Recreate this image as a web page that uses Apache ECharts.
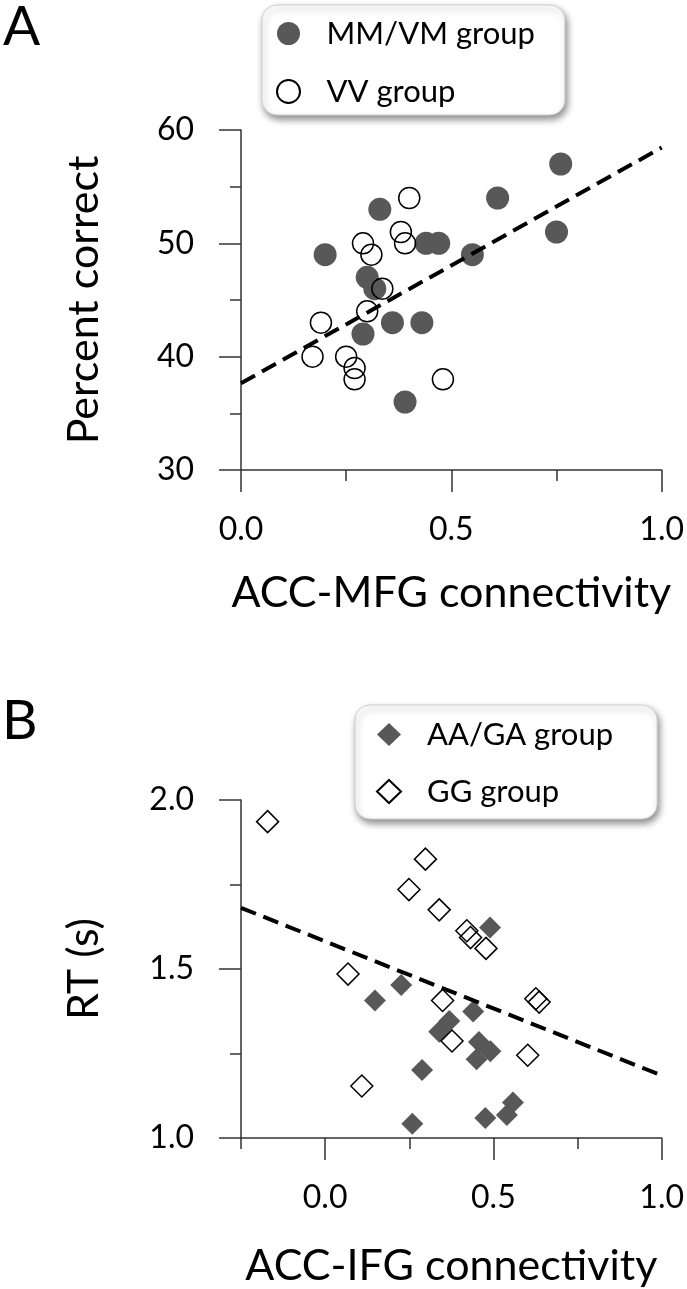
<!DOCTYPE html>
<html>
<head>
<meta charset="utf-8">
<script src="https://cdn.jsdelivr.net/npm/echarts@6/dist/echarts.min.js"></script>
<style>
html,body{margin:0;padding:0;background:#fff;}
#chart{width:687px;height:1289px;}
</style>
</head>
<body>
<div id="chart"></div>
<script>
// Panel A data
const mmvmX = [0.76, 0.61, 0.75, 0.33, 0.20, 0.44, 0.47, 0.55, 0.30, 0.318, 0.36, 0.43, 0.29, 0.39];
const mmvmY = [57, 54, 51, 53, 49, 50, 50, 49, 47, 46, 43, 43, 42, 36];
const vvX = [0.40, 0.38, 0.39, 0.29, 0.31, 0.336, 0.30, 0.19, 0.17, 0.25, 0.27, 0.27, 0.48];
const vvY = [54, 51, 50, 50, 49, 46, 44, 43, 40, 40, 39, 38, 38];
const fitAX = [0, 1.0];
const fitAY = [37.65, 58.45];
// Panel B data
const aagaX = [0.49, 0.226, 0.148, 0.44, 0.369, 0.339, 0.457, 0.491, 0.45, 0.288, 0.558, 0.54, 0.476, 0.259];
const aagaY = [1.623, 1.453, 1.407, 1.374, 1.346, 1.314, 1.284, 1.257, 1.233, 1.201, 1.105, 1.068, 1.059, 1.042];
const ggX = [-0.171, 0.298, 0.249, 0.339, 0.421, 0.432, 0.478, 0.068, 0.349, 0.626, 0.636, 0.377, 0.602, 0.109];
const ggY = [1.936, 1.825, 1.735, 1.675, 1.613, 1.593, 1.561, 1.485, 1.407, 1.412, 1.402, 1.287, 1.245, 1.154];
const fitBX = [-0.25, 1.0];
const fitBY = [1.681, 1.185];
// Axis tick labels
const xTicksA = [0, 0.5, 1.0];
const xTicksB = [0, 0.5, 1.0];

const FONT = 'Lato';
const AX = '#333';
const FILL = '#585858';
const zip = (a, b) => a.map((v, i) => [v, b[i]]);

const chart = echarts.init(document.getElementById('chart'), null, {renderer: 'canvas'});

const axisLineStyle = {show: true, onZero: false, lineStyle: {color: AX, width: 1.5}};
const tickStyle = {color: AX, width: 1.5};
const labelStyle = {fontFamily: FONT, fontSize: 32, color: '#000'};
const nameStyle = {fontFamily: FONT, fontSize: 43, color: '#000'};

const legendCommon = {
  orient: 'vertical',
  itemWidth: 24,
  itemHeight: 23,
  selectedMode: false,
  backgroundColor: '#fff',
  borderColor: '#cfcfcf',
  borderWidth: 1,
  borderRadius: 15,
  shadowBlur: 7,
  shadowColor: 'rgba(0,0,0,0.45)',
  shadowOffsetX: 2,
  shadowOffsetY: 4,
  textStyle: {fontFamily: FONT, fontSize: 31, color: '#000', lineHeight: 30, padding: [0, 0, 0, 21]}
};

const option = {
  animation: false,
  backgroundColor: '#fff',
  title: [
    {text: 'A', left: 3, top: 0, padding: 0, textStyle: {fontFamily: FONT, fontSize: 55, fontWeight: 'normal', color: '#000'}},
    {text: 'B', left: 2, top: 694, padding: 0, textStyle: {fontFamily: FONT, fontSize: 55, fontWeight: 'normal', color: '#000'}}
  ],
  legend: [
    Object.assign({}, legendCommon, {
      left: 262, top: 5, itemGap: 27, padding: [13, 30, 8, 14],
      data: [{name: 'MM/VM group', icon: 'circle'}, {name: 'VV group', icon: 'circle'}]
    }),
    Object.assign({}, legendCommon, {
      left: 355, top: 705, itemGap: 26, padding: [14, 44, 12, 21],
      data: [{name: 'AA/GA group', icon: 'diamond'}, {name: 'GG group', icon: 'diamond'}]
    })
  ],
  grid: [
    {left: 241, top: 130, width: 425, height: 340},
    {left: 241, top: 800, width: 425, height: 340}
  ],
  xAxis: [
    {
      gridIndex: 0, type: 'value', min: 0, max: 1, interval: 0.5,
      axisLine: axisLineStyle,
      axisTick: {show: true, length: 22, lineStyle: tickStyle},
      minorTick: {show: true, splitNumber: 2, length: 11, lineStyle: tickStyle},
      splitLine: {show: false}, minorSplitLine: {show: false},
      axisLabel: Object.assign({margin: 44, customValues: xTicksA, formatter: v => v.toFixed(1)}, labelStyle),
      name: 'ACC-MFG connectivity', nameLocation: 'middle', nameGap: 102, nameTextStyle: nameStyle
    },
    {
      gridIndex: 1, type: 'value', min: -0.25, max: 1, interval: 0.25, position: 'bottom',
      axisLine: axisLineStyle,
      axisTick: {show: true, length: 11, lineStyle: tickStyle},
      splitLine: {show: false},
      axisLabel: Object.assign({margin: 44, customValues: xTicksB, formatter: v => v.toFixed(1)}, labelStyle),
      name: 'ACC-IFG connectivity', nameLocation: 'middle', nameGap: 107, nameTextStyle: nameStyle
    },
    {
      gridIndex: 1, type: 'value', min: -0.25, max: 1, position: 'bottom', offset: 0,
      axisLine: {show: false, onZero: false},
      axisTick: {show: true, length: 22, customValues: xTicksB, lineStyle: tickStyle},
      splitLine: {show: false},
      axisLabel: {show: false}
    }
  ],
  yAxis: [
    {
      gridIndex: 0, type: 'value', min: 30, max: 60, interval: 10,
      axisLine: axisLineStyle,
      axisTick: {show: true, length: 22, lineStyle: tickStyle},
      minorTick: {show: true, splitNumber: 2, length: 11, lineStyle: tickStyle},
      splitLine: {show: false}, minorSplitLine: {show: false},
      axisLabel: Object.assign({margin: 47}, labelStyle),
      name: 'Percent correct', nameLocation: 'middle', nameGap: 135, nameTextStyle: nameStyle
    },
    {
      gridIndex: 1, type: 'value', min: 1, max: 2, interval: 0.5,
      axisLine: axisLineStyle,
      axisTick: {show: true, length: 22, lineStyle: tickStyle},
      minorTick: {show: true, splitNumber: 2, length: 11, lineStyle: tickStyle},
      splitLine: {show: false}, minorSplitLine: {show: false},
      axisLabel: Object.assign({margin: 47, formatter: v => v.toFixed(1)}, labelStyle),
      name: 'RT (s)', nameLocation: 'middle', nameGap: 135, nameTextStyle: nameStyle
    }
  ],
  series: [
    {
      name: 'MM/VM group', type: 'scatter', xAxisIndex: 0, yAxisIndex: 0,
      symbol: 'circle', symbolSize: 23,
      itemStyle: {color: FILL, opacity: 1},
      data: zip(mmvmX, mmvmY)
    },
    {
      name: 'VV group', type: 'scatter', xAxisIndex: 0, yAxisIndex: 0,
      symbol: 'circle', symbolSize: 21,
      itemStyle: {color: 'rgba(255,255,255,0)', borderColor: '#000', borderWidth: 1.5, opacity: 1},
      data: zip(vvX, vvY)
    },
    {
      type: 'line', xAxisIndex: 0, yAxisIndex: 0, symbol: 'none', silent: true, z: 5,
      lineStyle: {color: '#000', width: 4, type: [16, 8]},
      data: zip(fitAX, fitAY)
    },
    {
      name: 'AA/GA group', type: 'scatter', xAxisIndex: 1, yAxisIndex: 1,
      symbol: 'diamond', symbolSize: 22,
      itemStyle: {color: FILL, opacity: 1},
      data: zip(aagaX, aagaY)
    },
    {
      name: 'GG group', type: 'scatter', xAxisIndex: 1, yAxisIndex: 1,
      symbol: 'diamond', symbolSize: 22,
      itemStyle: {color: 'rgba(255,255,255,0)', borderColor: '#000', borderWidth: 1.5, opacity: 1},
      data: zip(ggX, ggY)
    },
    {
      type: 'line', xAxisIndex: 1, yAxisIndex: 1, symbol: 'none', silent: true, z: 5,
      lineStyle: {color: '#000', width: 4, type: [16, 8]},
      data: zip(fitBX, fitBY)
    }
  ]
};
chart.setOption(option);
</script>
</body>
</html>
